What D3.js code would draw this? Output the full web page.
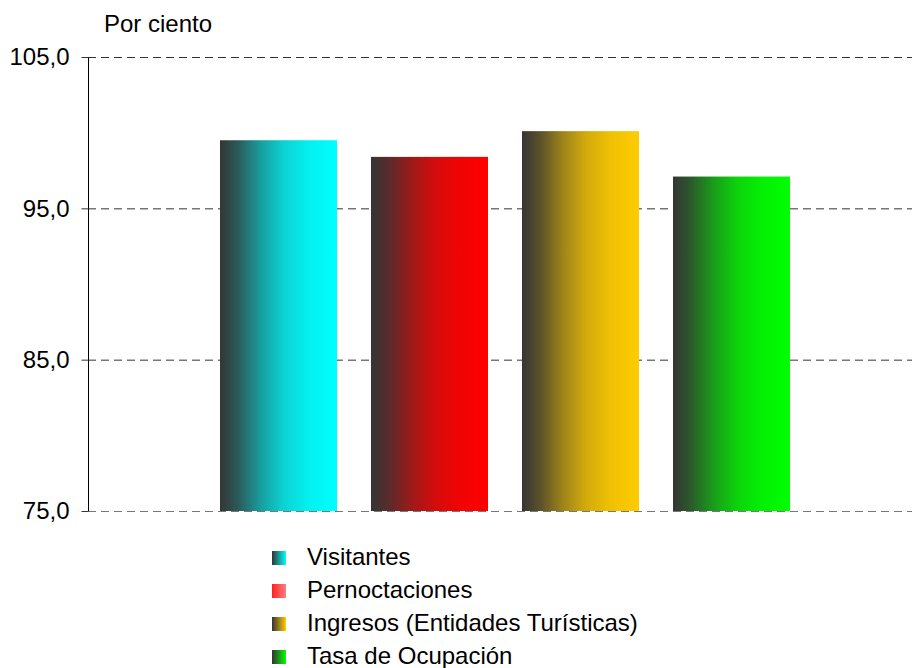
<!DOCTYPE html>
<html><head><meta charset="utf-8">
<script src="https://cdn.jsdelivr.net/npm/d3@7"></script>
<style>body{margin:0;background:#fff}svg{display:block}text{font-family:"Liberation Sans",Arial,sans-serif;fill:#000}</style>
</head><body>
<svg id="c" width="912" height="668"></svg>
<script>
const categories = ["Visitantes","Pernoctaciones","Ingresos (Entidades Turísticas)","Tasa de Ocupación"];
const values = [99.5, 98.4, 100.1, 97.1];
const colors = ["#00ffff","#ff0000","#ffcc00","#00ff00"];
const legendColors = [["#333333","#00ffff"],["#ff2020","#ff8080"],["#333333","#ffcc00"],["#333333","#00ff00"]];
const yTicks = [75,85,95,105];
const yLabel = "Por ciento";

const svg = d3.select("#c");
const x = d3.scaleBand().domain(categories).range([203,807]).paddingInner(0.225).paddingOuter(0.1125);
const y = d3.scaleLinear().domain([75,105]).range([511,57]);
const defs = svg.append("defs");
colors.forEach((c,i)=>{
  const g = defs.append("linearGradient").attr("id","g"+i).attr("x1","0").attr("x2","1").attr("y1","0").attr("y2","0");
  const mid = d3.interpolateRgb("#353535", c);
  [[0,0],[0.15,0.18],[0.35,0.52],[0.55,0.78],[0.75,0.92],[1,1]].forEach(([o,t])=>g.append("stop").attr("offset",o).attr("stop-color",mid(t)));
  const lg = defs.append("linearGradient").attr("id","lg"+i).attr("x1","0").attr("x2","1").attr("y1","0").attr("y2","0");
  lg.append("stop").attr("offset",0).attr("stop-color",legendColors[i][0]);
  lg.append("stop").attr("offset",1).attr("stop-color",legendColors[i][1]);
});

// gridlines
svg.append("g").selectAll("line").data(yTicks).join("line")
  .attr("x1",88).attr("x2",912).attr("y1",d=>y(d)+0.5).attr("y2",d=>y(d)+0.5)
  .attr("stroke",d=>d===75?"#777":"#333").attr("stroke-width",1).attr("stroke-dasharray","8,5");

// bars
svg.append("g").selectAll("rect").data(values).join("rect")
  .attr("x",(d,i)=>x(categories[i])).attr("width",x.bandwidth())
  .attr("y",d=>y(d)).attr("height",d=>y(75)-y(d))
  .attr("fill",(d,i)=>`url(#g${i})`);

// axis
const ax = svg.append("g").attr("transform","translate(88.5,0)").call(d3.axisLeft(y).tickValues(yTicks).tickSize(7).tickPadding(12).tickFormat(d=>d3.format(".1f")(d).replace(".",",")));
ax.select(".domain").attr("stroke","#000").attr("d","M0,57V511");
ax.selectAll(".tick line").attr("stroke","#333");
ax.selectAll("text").attr("font-size",24).attr("font-family","Liberation Sans, Arial, sans-serif").attr("fill","#000");

svg.append("text").attr("x",104).attr("y",32).attr("font-size",24).text(yLabel);

// legend
const lg = svg.append("g").selectAll("g").data(categories).join("g")
  .attr("transform",(d,i)=>`translate(272,${551+i*33})`);
lg.append("rect").attr("width",14).attr("height",14).attr("fill",(d,i)=>`url(#lg${i})`);
lg.append("text").attr("x",35).attr("y",14).attr("font-size",24).text(d=>d);
</script>
</body></html>
